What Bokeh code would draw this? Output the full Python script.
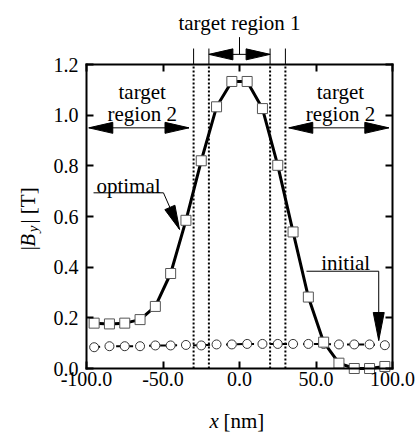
import math
from bokeh.plotting import figure
from bokeh.models import (Range1d, FixedTicker, PrintfTickFormatter, LinearAxis,
                          Label, Arrow, PolyAnnotation)
from bokeh.embed import file_html
from bokeh.resources import INLINE

# ---- data ----
x_nm = [-95, -85, -75, -65, -55, -45, -35, -25, -15, -5,
        5, 15, 25, 35, 45, 55, 65, 75, 85, 95]
optimal = [0.179, 0.176, 0.179, 0.193, 0.245, 0.375, 0.585, 0.820, 1.033, 1.133,
           1.133, 1.026, 0.802, 0.539, 0.282, 0.104, 0.021, 0.000, 0.000, 0.008]
initial = [0.084, 0.088, 0.088, 0.088, 0.091, 0.091, 0.093, 0.091, 0.095, 0.095,
           0.097, 0.097, 0.097, 0.097, 0.097, 0.097, 0.095, 0.095, 0.095, 0.092]
x_ticks = [-100, -50, 0, 50, 100]
y_ticks = [0.0, 0.2, 0.4, 0.6, 0.8, 1.0, 1.2]
boundaries = [-30, -20, 20, 30]

FONT = "Liberation Serif"
W, H = 420, 432
# inner plot box (pixels from top-left of the canvas)
BL, BR, BT, BB = 86, 392, 64, 368
X0, X1, Y0, Y1 = -100, 100, 0.0, 1.2
SX = (BR - BL) / (X1 - X0)
SY = (BB - BT) / (Y1 - Y0)
xr = Range1d(X0 - BL / SX, X1 + (W - BR) / SX)
yr = Range1d(Y0 - (H - BB) / SY, Y1 + BT / SY)

p = figure(title=None, frame_width=W, frame_height=H, x_range=xr, y_range=yr,
           output_backend="svg", toolbar_location=None,
           min_border=0, min_border_left=0, min_border_right=0,
           min_border_top=0, min_border_bottom=0,
           x_axis_location=None, y_axis_location=None)
p.grid.visible = False
p.outline_line_color = None
p.background_fill_color = "white"
p.border_fill_color = "white"

def make_axis(place, loc, ticks, bounds, labels, standoff=8):
    ax = LinearAxis(ticker=FixedTicker(ticks=ticks),
                    formatter=PrintfTickFormatter(format="%.1f"),
                    fixed_location=loc, bounds=bounds)
    ax.axis_line_width = 2
    ax.axis_line_color = "black"
    ax.axis_line_cap = "square"
    ax.major_tick_in = 7
    ax.major_tick_out = 0
    ax.major_tick_line_width = 2
    ax.minor_tick_line_color = None
    ax.major_label_text_font = FONT
    ax.major_label_text_font_size = "20px"
    ax.major_label_text_color = "black"
    ax.major_label_standoff = standoff
    if not labels:
        ax.major_label_text_color = None
    p.add_layout(ax, place)

make_axis("below", Y0, x_ticks, (X0, X1), True, 3)
make_axis("left", X0, y_ticks, (Y0, Y1), True, 8)
make_axis("above", Y1, x_ticks, (X0, X1), False)
make_axis("right", X1, y_ticks, (Y0, Y1), False)

# ---- region boundaries ----
p.segment(x0=boundaries, y0=[Y0] * 4, x1=boundaries, y1=[Y1] * 4,
          line_color="black", line_width=2, line_dash="2 2")
p.segment(x0=boundaries, y0=[Y1] * 4, x1=boundaries, y1=[1.263] * 4,
          line_color="black", line_width=1)

# ---- data curves ----
p.line(x_nm, initial, line_color="black", line_width=2, line_dash="6 5")
p.scatter(x_nm, initial, marker="circle", size=9, fill_color="white",
          line_color="#333333", line_width=1)
p.line(x_nm, optimal, line_color="black", line_width=3)
p.scatter(x_nm, optimal, marker="square", size=10, fill_color="white",
          line_color="#555555", line_width=1)

# ---- annotation helpers ----
def seg(x0, y0, x1, y1, w=1):
    p.add_layout(Arrow(x_start=x0, y_start=y0, x_end=x1, y_end=y1,
                       start=None, end=None, line_width=w, line_color="black"))

def head(tx, ty, fx, fy, L=24, Wd=11):
    dx, dy = (tx - fx) * SX, (ty - fy) * SY
    n = math.hypot(dx, dy)
    ux, uy = dx / n, dy / n
    bx, by = -ux * L, -uy * L
    px_, py_ = -uy * Wd / 2, ux * Wd / 2
    xs = [tx, tx + (bx + px_) / SX, tx + (bx - px_) / SX]
    ys = [ty, ty + (by + py_) / SY, ty + (by - py_) / SY]
    p.add_layout(PolyAnnotation(xs=xs, ys=ys, fill_color="black", fill_alpha=1,
                                line_color="black", line_width=1, line_alpha=1))

def darrow(x0, x1, y):
    seg(x0, y, x1, y)
    head(x0, y, x1, y)
    head(x1, y, x0, y)

def label(x, y, text, align="left", size="21px", style="normal", angle=0):
    p.add_layout(Label(x=x, y=y, text=text, angle=angle, text_font=FONT,
                       text_font_size=size, text_font_style=style, text_color="black",
                       text_align=align, text_baseline="alphabetic"))

# target region 1
darrow(-20, 20, 1.24)
seg(0, 1.24, 0, 1.308)
label(0, 1.362, "target region 1", align="center")

# target region 2
darrow(-98.5, -33.0, 0.95)
darrow(32.2, 97.6, 0.95)
for cx in (-63.6, 66.0):
    label(cx, 1.093, "target", align="center")
    label(cx, 1.005, "region 2", align="center")

# optimal pointer
label(-93.5, 0.722, "optimal")
seg(-95.4, 0.6935, -49.7, 0.6935)
seg(-49.7, 0.6935, -39.2, 0.549)
head(-39.2, 0.549, -49.7, 0.6935)

# initial pointer
label(53.4, 0.4145, "initial")
seg(43.8, 0.384, 91.0, 0.384)
seg(91.0, 0.384, 91.0, 0.1105)
head(91.0, 0.1105, 91.0, 0.384, L=28, Wd=11)

# ---- axis titles ----
ang = math.pi / 2
label(-138.5, 0.4751, "|", align="center", angle=ang)
label(-138.5, 0.5058, "B", align="center", style="italic", angle=ang)
label(-134.9, 0.5514, "y", align="center", size="15px", style="italic", angle=ang)
label(-138.5, 0.5720, "| [T]", align="left", angle=ang)

label(-19.6, -0.209, "x", style="italic")
label(-10.5, -0.209, "[nm]")

open("out.html", "w").write(file_html(p, INLINE))
